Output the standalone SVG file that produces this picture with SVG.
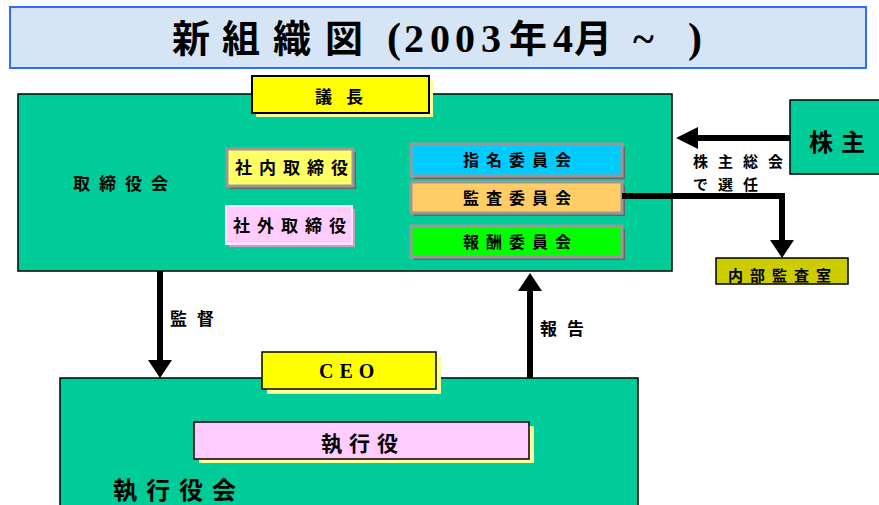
<svg xmlns="http://www.w3.org/2000/svg" width="879" height="505" viewBox="0 0 879 505">
<style>
.jp{font-family:"Noto Sans CJK JP","Noto Sans",sans-serif;font-weight:bold;fill:#000}
.sr{font-family:"Liberation Serif",serif;font-weight:bold;fill:#000}
.box{fill:#00CC99;stroke:#000;stroke-width:1.5}
.cm{stroke:#999;stroke-width:3}
.sh{fill:#666}
.ysh{fill:#FFFF99}
.conn{fill:none;stroke:#000;stroke-width:6}
</style>
<defs>
<marker id="ah" markerUnits="userSpaceOnUse" markerWidth="18" markerHeight="24" refX="0" refY="12" orient="auto">
<path d="M0,0 L18,12 L0,24 z" fill="#000"/>
</marker>
<marker id="ah2" markerUnits="userSpaceOnUse" markerWidth="22" markerHeight="22" refX="0" refY="11" orient="auto">
<path d="M0,0 L22,11 L0,22 z" fill="#000"/>
</marker>
</defs>
<rect width="879" height="505" fill="#fff"/>
<g id="title">
<rect x="10" y="7" width="856" height="61" fill="#D6E5F6" stroke="#2F6BFF" stroke-width="2"/>
<text y="52" font-size="38"><tspan class="jp" x="172">新</tspan><tspan class="jp" x="222">組</tspan><tspan class="jp" x="273">織</tspan><tspan class="jp" x="325">図</tspan><tspan class="sr" x="387" font-size="42">(</tspan><tspan class="sr" x="404" font-size="40">2</tspan><tspan class="sr" x="430" font-size="40">0</tspan><tspan class="sr" x="455" font-size="40">0</tspan><tspan class="sr" x="481" font-size="40">3</tspan><tspan class="jp" x="509">年</tspan><tspan class="sr" x="553" font-size="40">4</tspan><tspan class="jp" x="574">月</tspan><tspan class="sr" x="633" font-size="40">~</tspan><tspan class="sr" x="688" font-size="42">)</tspan></text>
</g>
<g id="board">
<rect class="box" x="18" y="94" width="654" height="177"/>
<text class="jp" x="73" y="189.5" font-size="17" letter-spacing="9">取締役会</text>
</g>
<g id="chair">
<rect class="ysh" x="256" y="80" width="177" height="37"/>
<rect x="252" y="76" width="177" height="37" fill="#FFFF00" stroke="#000" stroke-width="2"/>
<text class="jp" x="315" y="102.5" font-size="17" letter-spacing="14">議長</text>
</g>
<g id="inside-directors">
<rect class="sh" x="230" y="152" width="126" height="37"/>
<rect class="cm" x="227" y="149" width="126" height="37" fill="#FFFF66"/>
<text class="jp" x="235" y="174" font-size="17" letter-spacing="7">社内取締役</text>
</g>
<g id="outside-directors">
<rect x="229" y="209" width="126" height="38" fill="#CC99CC"/>
<rect x="226" y="206" width="126" height="38" fill="#FFCCFF" stroke="#FFE8FF" stroke-width="2"/>
<text class="jp" x="233" y="231.5" font-size="17" letter-spacing="7">社外取締役</text>
</g>
<g id="nomination">
<rect class="sh" x="414" y="147" width="211" height="32"/>
<rect class="cm" x="411" y="144" width="211" height="32" fill="#00CCFF"/>
<text class="jp" x="463" y="166" font-size="16" letter-spacing="7">指名委員会</text>
</g>
<g id="audit">
<rect class="sh" x="414" y="185" width="211" height="31"/>
<rect class="cm" x="411" y="182" width="211" height="31" fill="#FFCC66"/>
<text class="jp" x="463" y="203.5" font-size="16" letter-spacing="7">監査委員会</text>
</g>
<g id="compensation">
<rect class="sh" x="414" y="229" width="211" height="31"/>
<rect class="cm" x="411" y="226" width="211" height="31" fill="#00FF00"/>
<text class="jp" x="463" y="247.5" font-size="16" letter-spacing="7">報酬委員会</text>
</g>
<g id="shareholders">
<rect class="box" x="790" y="100" width="92" height="74"/>
<text class="jp" x="809" y="151" font-size="24" letter-spacing="8">株主</text>
</g>
<g id="internal-audit">
<rect x="716" y="258" width="132" height="26" fill="#CCCC00" stroke="#000" stroke-width="1.5"/>
<text class="jp" x="728" y="281" font-size="15" letter-spacing="7">内部監査室</text>
</g>
<g id="executive-board">
<rect class="box" x="60" y="378" width="578" height="140"/>
<text class="jp" x="113" y="499" font-size="24" letter-spacing="9">執行役会</text>
</g>
<g id="ceo">
<rect class="ysh" x="267" y="357" width="174" height="37"/>
<rect x="262" y="352" width="174" height="37" fill="#FFFF00" stroke="#000" stroke-width="1.5"/>
<text class="sr" x="319" y="378" font-size="20" letter-spacing="6">CEO</text>
</g>
<g id="officers">
<rect class="ysh" x="199" y="426" width="335" height="37"/>
<rect x="194" y="422" width="335" height="37" fill="#FFCCFF" stroke="#000" stroke-width="1.5"/>
<text class="jp" x="321" y="451" font-size="21" letter-spacing="7">執行役</text>
</g>
<g id="connectors">
<line class="conn" x1="790" y1="138" x2="698" y2="138" stroke-width="5" marker-end="url(#ah2)"/>
<polyline class="conn" points="622,196 782,196 782,240" marker-end="url(#ah)"/>
<line class="conn" x1="160" y1="271" x2="160" y2="360" marker-end="url(#ah)"/>
<line class="conn" x1="530" y1="378" x2="530" y2="291" marker-end="url(#ah)"/>
<text class="jp" x="693" y="166.5" font-size="15" letter-spacing="10">株主総会</text>
<text class="jp" x="693" y="189.5" font-size="15" letter-spacing="10">で選任</text>
<text class="jp" x="170" y="324.5" font-size="17" letter-spacing="10">監督</text>
<text class="jp" x="540" y="334.5" font-size="17" letter-spacing="10">報告</text>
</g>
</svg>
